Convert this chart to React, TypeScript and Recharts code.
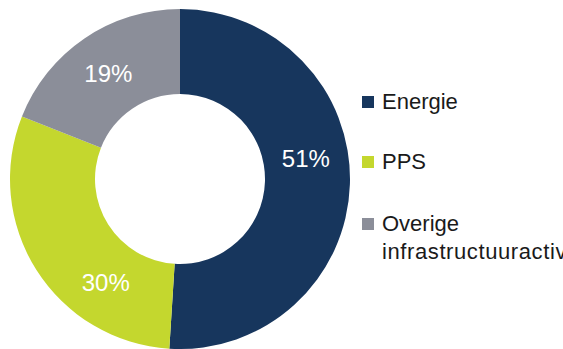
import { PieChart, Pie, Cell } from "recharts";

const categories = ["Energie", "PPS", "Overige infrastructuuractiviteiten"];
const shares = [51, 30, 19];
const colors = ["#17365D", "#C4D72E", "#8B8E99"];

// Excel nudges its data labels away from the mid angle
const labelShift = [11, 22, 0];

const data = categories.map((name, i) => ({ name, value: shares[i] }));

const RADIAN = Math.PI / 180;

const renderLabel = (props: any) => {
  const { cx, cy, midAngle, innerRadius, outerRadius, index, value } = props;
  const r = (innerRadius + outerRadius) / 2;
  const a = (midAngle + labelShift[index]) * RADIAN;
  const x = cx + r * Math.cos(a);
  const y = cy - r * Math.sin(a);
  return (
    <text
      x={x}
      y={y}
      fill="#ffffff"
      textAnchor="middle"
      dominantBaseline="central"
      fontSize={24}
      fontFamily="Liberation Sans, Arial, sans-serif"
    >
      {value}%
    </text>
  );
};

const App = () => {
  return (
    <div style={{ position: "absolute", left: 0, top: 0, width: 563, height: 349, background: "#fff", overflow: "hidden" }}>
      <PieChart width={563} height={349} margin={{ top: 0, right: 0, bottom: 0, left: 0 }}>
        <Pie
          data={data}
          dataKey="value"
          cx={180}
          cy={179}
          innerRadius={85}
          outerRadius={170}
          startAngle={90}
          endAngle={-270}
          stroke="none"
          label={renderLabel}
          labelLine={false}
          isAnimationActive={false}
        >
          {data.map((d, i) => (
            <Cell key={d.name} fill={colors[i]} />
          ))}
        </Pie>
      </PieChart>
      <div
        style={{
          position: "absolute",
          left: 362,
          top: 88,
          width: 201,
          fontFamily: "Liberation Sans, Arial, sans-serif",
          fontSize: 22,
          color: "#1a1a1a",
          lineHeight: "28px",
        }}
      >
        {categories.map((c, i) => (
          <div key={c} style={{ display: "flex", alignItems: "flex-start", marginBottom: i === 0 ? 32 : 34 }}>
            <span style={{ width: 12, height: 12, background: colors[i], marginTop: 8, marginRight: 8, flexShrink: 0 }} />
            <span style={{ overflow: "hidden" }}>
              {i === 2 ? (
                <>
                  Overige
                  <br />
                  <span style={{ whiteSpace: "nowrap", letterSpacing: 0.6 }}>infrastructuuractiviteiten</span>
                </>
              ) : (
                c
              )}
            </span>
          </div>
        ))}
      </div>
    </div>
  );
};

export default App;
